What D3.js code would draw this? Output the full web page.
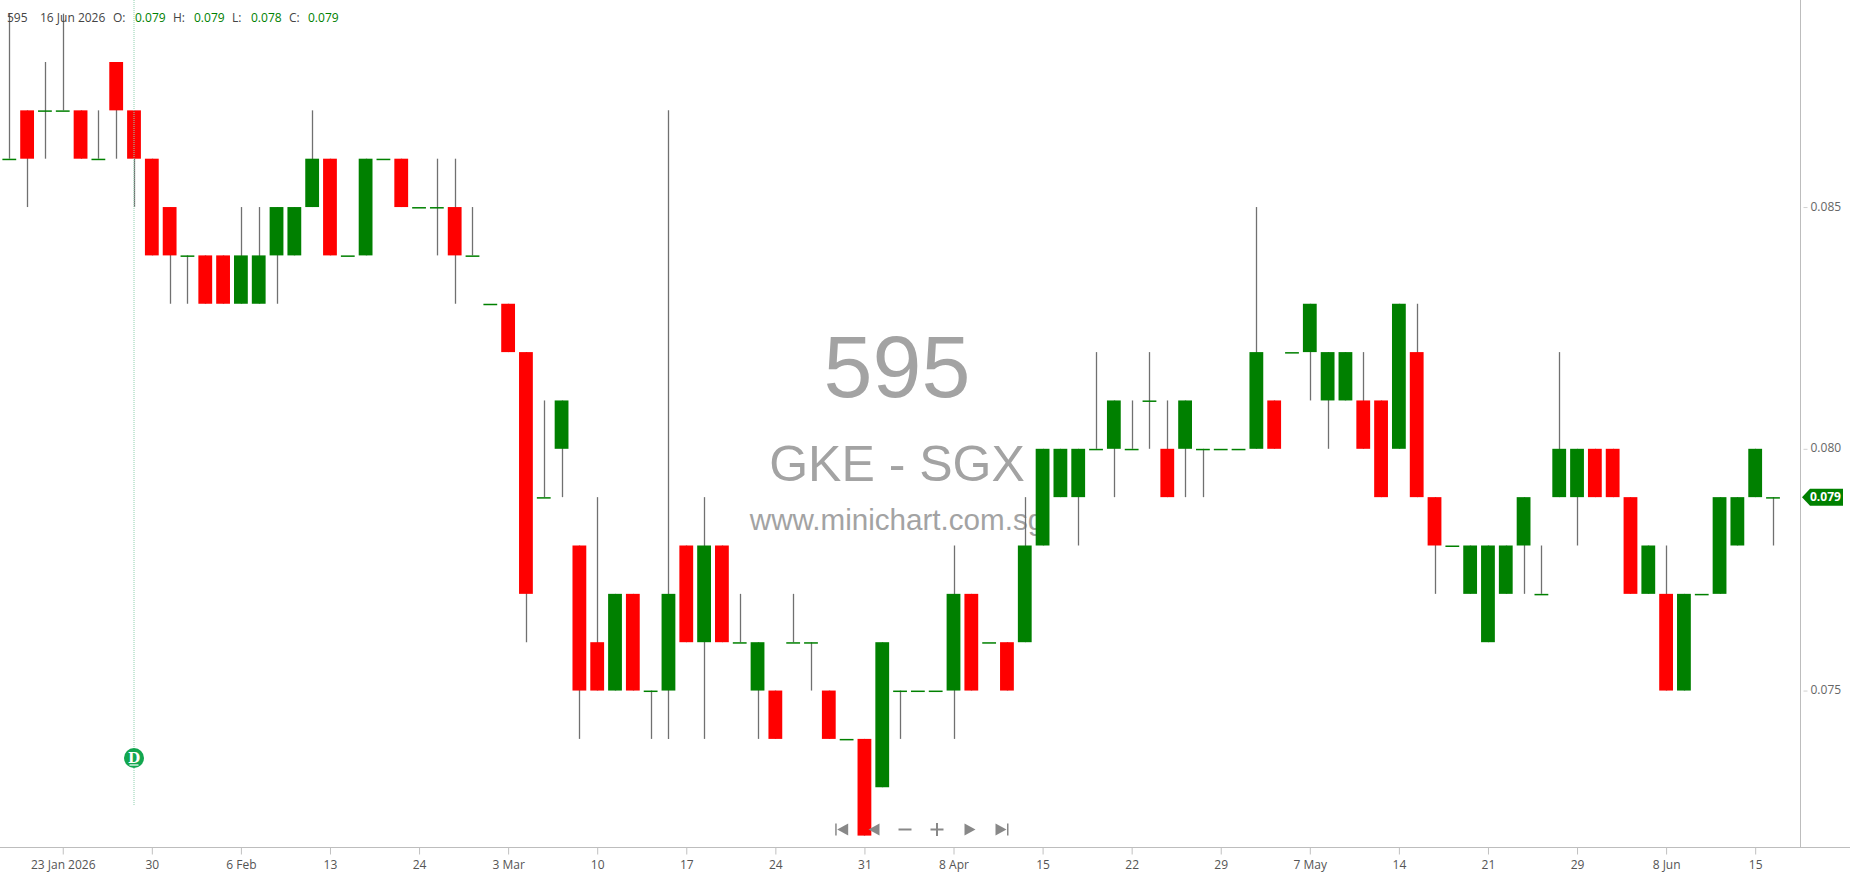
<!DOCTYPE html>
<html>
<head>
<meta charset="utf-8">
<script src="https://cdnjs.cloudflare.com/ajax/libs/d3/7.8.5/d3.min.js"></script>
<style>
html,body{margin:0;padding:0;background:#fff;overflow:hidden}
svg{display:block}
text{font-family:"Open Sans",sans-serif}
.wm{font-family:"Liberation Sans",Arial,sans-serif;fill:#a3a3a3;text-anchor:middle}
</style>
</head>
<body>
<svg id="c" width="1850" height="874"></svg>
<script>
const opens =[.086,.087,.087,.087,.087,.086,.088,.087,.086,.085,.084,.084,.084,.083,.083,.084,.084,.085,.086,.084,.084,.086,.086,.085,.085,.085,.084,.083,.083,.082,.079,.080,.078,.076,.075,.077,.075,.075,.078,.076,.078,.076,.075,.075,.076,.076,.075,.074,.074,.073,.075,.075,.075,.075,.077,.076,.076,.076,.078,.079,.079,.080,.080,.080,.081,.080,.080,.080,.080,.080,.080,.081,.082,.082,.081,.081,.081,.081,.080,.082,.079,.078,.077,.076,.077,.078,.077,.079,.079,.080,.080,.079,.077,.077,.075,.077,.077,.078,.079,.079];
const highs =[.089,.087,.088,.089,.087,.087,.088,.087,.086,.085,.084,.084,.084,.085,.085,.085,.085,.087,.086,.084,.086,.086,.086,.085,.086,.086,.085,.083,.083,.082,.081,.081,.078,.079,.077,.077,.075,.087,.078,.079,.078,.077,.076,.075,.077,.076,.075,.074,.074,.076,.075,.075,.075,.078,.077,.076,.076,.079,.080,.080,.080,.082,.081,.081,.082,.081,.081,.080,.080,.080,.085,.081,.082,.083,.082,.082,.082,.081,.083,.083,.079,.078,.078,.078,.078,.079,.078,.082,.080,.080,.080,.079,.078,.078,.077,.077,.079,.079,.080,.079];
const lows  =[.086,.085,.086,.087,.086,.086,.086,.085,.084,.083,.083,.083,.083,.083,.083,.083,.084,.085,.084,.084,.084,.086,.085,.085,.084,.083,.084,.083,.082,.076,.079,.079,.074,.075,.075,.075,.074,.074,.076,.074,.076,.076,.074,.074,.076,.075,.074,.074,.072,.073,.074,.075,.075,.074,.075,.076,.075,.076,.078,.079,.078,.080,.079,.080,.080,.079,.079,.079,.080,.080,.080,.080,.082,.081,.080,.081,.080,.079,.080,.079,.077,.078,.077,.076,.077,.077,.077,.079,.078,.079,.079,.077,.077,.075,.075,.077,.077,.078,.079,.078];
const closes=[.086,.086,.087,.087,.086,.086,.087,.086,.084,.084,.084,.083,.083,.084,.084,.085,.085,.086,.084,.084,.086,.086,.085,.085,.085,.084,.084,.083,.082,.077,.079,.081,.075,.075,.077,.075,.075,.077,.076,.078,.076,.076,.076,.074,.076,.076,.074,.074,.072,.076,.075,.075,.075,.077,.075,.076,.075,.078,.080,.080,.080,.080,.081,.080,.081,.079,.081,.080,.080,.080,.082,.080,.082,.083,.082,.082,.080,.079,.083,.079,.078,.078,.078,.078,.078,.079,.077,.080,.080,.079,.079,.077,.078,.075,.077,.077,.079,.079,.080,.079];

const tickIndex =[3,8,13,18,23,28,33,38,43,48,53,58,63,68,73,78,83,88,93,98];
const tickLabels=["23 Jan 2026","30","6 Feb","13","24","3 Mar","10","17","24","31","8 Apr","15","22","29","7 May","14","21","29","8 Jun","15"];
const priceTicks=[.085,.080,.075];
const lastPrice=.079;
const headerParts=[["595",7,"#444"],["16 Jun 2026",40,"#444"],["O:",113,"#444"],["0.079",135,"#008000"],["H:",173,"#444"],["0.079",194,"#008000"],["L:",232,"#444"],["0.078",251,"#008000"],["C:",289,"#444"],["0.079",308,"#008000"]];
const watermark=[["595",88,397],["GKE - SGX",50,480.7],["www.minichart.com.sg",29.6,530]];
const crosshairIndex=7;

const svg=d3.select("#c");
const x=d3.scaleLinear().domain([0,99]).range([9.3,1773]);
const y=d3.scaleLinear().domain([.072,.088]).range([835.6,62]);
const bw=13.8, axisX=1800.5, axisY=847.5;

// watermark, behind the candles
svg.append("g").selectAll("text").data(watermark).join("text")
  .attr("class","wm").attr("x",897).attr("y",d=>d[2]).attr("font-size",d=>d[1]).text(d=>d[0]);

// axis frame
svg.append("line").attr("x1",0).attr("x2",1850).attr("y1",axisY).attr("y2",axisY).attr("stroke","#bdbdbd").attr("stroke-width",1);
svg.append("line").attr("x1",axisX).attr("x2",axisX).attr("y1",0).attr("y2",axisY).attr("stroke","#bdbdbd").attr("stroke-width",1);

// x axis
const gx=svg.append("g").attr("transform",`translate(0,${axisY})`)
  .call(d3.axisBottom(x).tickValues(tickIndex).tickFormat((d,i)=>tickLabels[i]).tickSize(7).tickPadding(6));
gx.select(".domain").remove();
gx.selectAll("line").attr("stroke","#c0c0c0");
gx.selectAll("text").attr("fill","#555").attr("font-size",12).attr("font-family",'"Open Sans",sans-serif');

// y axis
const gy=svg.append("g").attr("transform",`translate(${axisX},0)`)
  .call(d3.axisRight(y).tickValues(priceTicks).tickFormat(d3.format(".3f")).tickSize(7).tickPadding(3));
gy.select(".domain").remove();
gy.selectAll("line").attr("x1",3).attr("stroke","#d0d0d0");
gy.selectAll("text").attr("fill","#666").attr("font-size",12).attr("font-family",'"Open Sans",sans-serif').attr("dy","0.25em");

const idx=d3.range(opens.length);
// wicks
svg.append("g").selectAll("line").data(idx).join("line")
  .attr("x1",i=>Math.round(x(i))+.5).attr("x2",i=>Math.round(x(i))+.5)
  .attr("y1",i=>y(highs[i])).attr("y2",i=>y(lows[i]))
  .attr("stroke","#707070").attr("stroke-width",1.3);
// bodies and doji dashes
const col=i=>closes[i]>opens[i]?"#008000":closes[i]<opens[i]?"#ff0000":"#008000";
svg.append("g").selectAll("rect").data(idx).join("rect")
  .attr("x",i=>x(i)-bw/2).attr("width",bw)
  .attr("y",i=>y(Math.max(opens[i],closes[i])))
  .attr("height",i=>opens[i]===closes[i]?1.5:y(Math.min(opens[i],closes[i]))-y(Math.max(opens[i],closes[i])))
  .attr("fill",col);

// crosshair
const cx=x(crosshairIndex);
svg.append("line").attr("x1",cx).attr("x2",cx).attr("y1",0).attr("y2",806)
  .attr("stroke","#8fd0ae").attr("stroke-width",1).attr("stroke-dasharray","1 1");
svg.append("circle").attr("cx",cx).attr("cy",758).attr("r",10).attr("fill","#12a64f");
svg.append("text").attr("x",cx).attr("y",763).attr("text-anchor","middle").attr("fill","#fff")
  .attr("font-size",14).attr("font-weight",700).style("font-family",'"DejaVu Serif",serif').text("D");
svg.append("line").attr("x1",cx-4.5).attr("x2",cx+4.5).attr("y1",765).attr("y2",765).attr("stroke","#fff").attr("stroke-width",1.2);

// header
svg.append("g").selectAll("text").data(headerParts).join("text")
  .attr("x",d=>d[1]).attr("y",22).attr("font-size",12).attr("fill",d=>d[2]).text(d=>d[0]);

// last price tag
const ly=y(lastPrice);
svg.append("path").attr("fill","#008000")
  .attr("d",d3.line()([[1802,ly],[1810,ly-8.5],[1843,ly-8.5],[1843,ly+8.5],[1810,ly+8.5]])+"Z");
svg.append("text").attr("x",1810).attr("y",ly+4).attr("fill","#fff").attr("font-size",12).attr("font-weight",700).text(d3.format(".3f")(lastPrice));

// navigation buttons
const nav=svg.append("g").attr("fill","#888").attr("stroke","none");
const navY=829.5, L=d3.line();
const btn=(cxx,pts)=>nav.append("path").attr("transform",`translate(${cxx},${navY})`).attr("d",L(pts)+"Z");
btn(841.7,[[-6.5,-6],[-5,-6],[-5,6],[-6.5,6]]); btn(841.7,[[-4.5,0],[6.5,-6],[6.5,6]]);
btn(874,[[-5.5,0],[5.5,-6],[5.5,6]]);
btn(905,[[-6.5,-1],[6.5,-1],[6.5,1],[-6.5,1]]);
btn(937,[[-6.5,-1],[6.5,-1],[6.5,1],[-6.5,1]]); btn(937,[[-1,-6.5],[1,-6.5],[1,6.5],[-1,6.5]]);
btn(970,[[-5.5,-6],[5.5,0],[-5.5,6]]);
btn(1002,[[-6.5,-6],[4.5,0],[-6.5,6]]); btn(1002,[[5,-6],[6.5,-6],[6.5,6],[5,6]]);
</script>
</body>
</html>
